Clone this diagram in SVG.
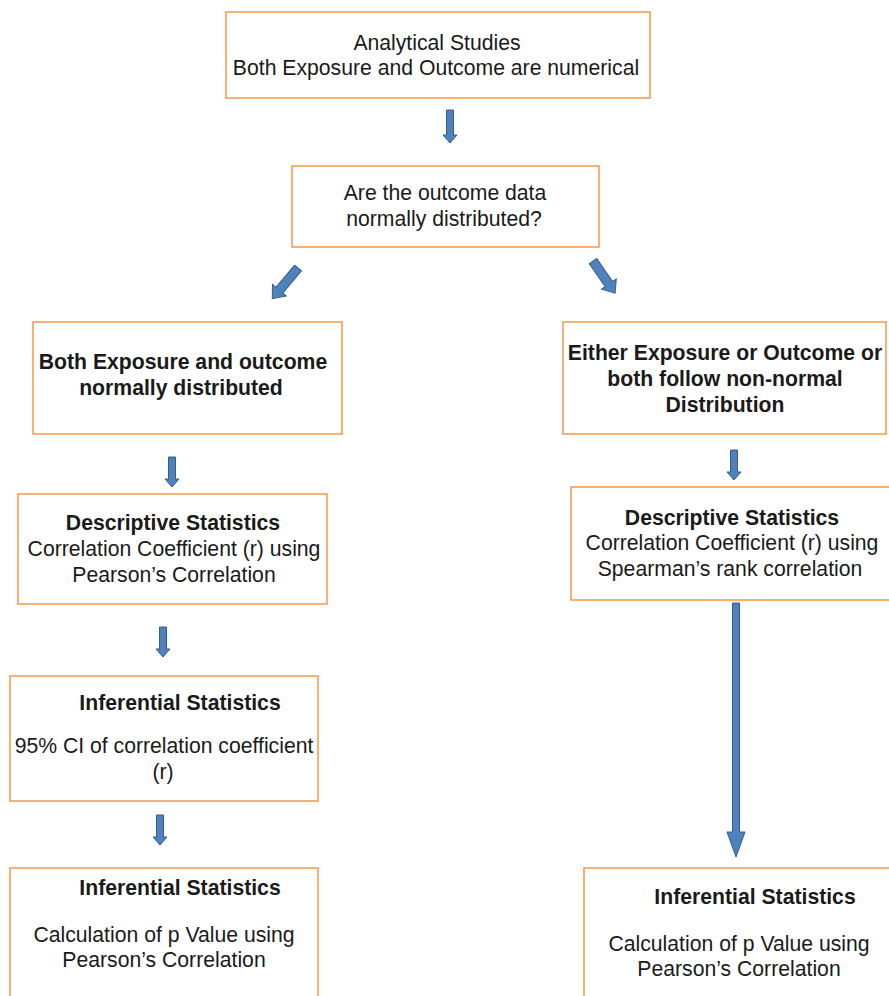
<svg xmlns="http://www.w3.org/2000/svg" width="889" height="996" viewBox="0 0 889 996">
  <style>
    .box { fill: #ffffff; stroke: #f79646; stroke-width: 1.5; }
    .t { font-family: "Liberation Sans", Arial, sans-serif; font-size: 21.2px; fill: #1a1a1a; text-anchor: middle; }
    .b { font-weight: bold; }
    .arr { fill: #4f81bd; stroke: #385d8a; stroke-width: 1; stroke-linejoin: miter; }
  </style>
  <rect width="889" height="996" fill="#ffffff"/>

  <!-- connectors: block arrows -->
  <g id="connectors">
    <!-- top to question -->
    <path class="arr" d="M446.5,110 H453.5 V135 H457 L450,143 L443,135 H446.5 Z"/>
    <!-- question to normal branch -->
    <path class="arr" transform="translate(298,268) rotate(40)" d="M-4.5,0 H4.5 V29 H9 L0,40 L-9,29 H-4.5 Z"/>
    <!-- question to non-normal branch -->
    <path class="arr" transform="translate(593,261) rotate(-34.5)" d="M-4.5,0 H4.5 V28 H9 L0,39 L-9,28 H-4.5 Z"/>
    <!-- left column -->
    <path class="arr" d="M168.5,457 H175.5 V479 H179 L172,487 L165,479 H168.5 Z"/>
    <path class="arr" d="M159.5,627 H166.5 V649 H170 L163,657 L156,649 H159.5 Z"/>
    <path class="arr" d="M156.5,815 H163.5 V837 H167 L160,845 L153,837 H156.5 Z"/>
    <!-- right column -->
    <path class="arr" d="M730.5,450 H737.5 V472 H741 L734,480 L727,472 H730.5 Z"/>
    <path class="arr" d="M732.5,603 H739.5 V832 H745 L736,857 L727,832 H732.5 Z"/>
  </g>

  <g id="node-analytical">
    <rect class="box" x="226" y="12" width="424" height="86"/>
    <text class="t" x="437" y="50">Analytical Studies</text>
    <text class="t" x="436" y="75">Both Exposure and Outcome are numerical</text>
  </g>

  <g id="node-normality">
    <rect class="box" x="292" y="166" width="307" height="81"/>
    <text class="t" x="445" y="200">Are the outcome data</text>
    <text class="t" x="444" y="226">normally distributed?</text>
  </g>

  <g id="node-normal">
    <rect class="box" x="33" y="322" width="309" height="112"/>
    <text class="t b" x="183" y="369">Both Exposure and outcome</text>
    <text class="t b" x="181" y="395">normally distributed</text>
  </g>

  <g id="node-nonnormal">
    <rect class="box" x="563" y="322" width="323" height="112"/>
    <text class="t b" x="725" y="360">Either Exposure or Outcome or</text>
    <text class="t b" x="725" y="386">both follow non-normal</text>
    <text class="t b" x="725" y="412">Distribution</text>
  </g>

  <g id="node-desc-pearson">
    <rect class="box" x="18" y="494" width="309" height="110"/>
    <text class="t b" x="173" y="530">Descriptive Statistics</text>
    <text class="t" x="174" y="556">Correlation Coefficient (r) using</text>
    <text class="t" x="174" y="582">Pearson’s Correlation</text>
  </g>

  <g id="node-desc-spearman">
    <rect class="box" x="571" y="487" width="330" height="113"/>
    <text class="t b" x="732" y="525">Descriptive Statistics</text>
    <text class="t" x="732" y="550">Correlation Coefficient (r) using</text>
    <text class="t" x="730" y="576">Spearman’s rank correlation</text>
  </g>

  <g id="node-ci">
    <rect class="box" x="10" y="676" width="308" height="125"/>
    <text class="t b" x="180" y="710">Inferential Statistics</text>
    <text class="t" x="164" y="753">95% CI of correlation coefficient</text>
    <text class="t" x="163" y="779">(r)</text>
  </g>

  <g id="node-pvalue-left">
    <rect class="box" x="10" y="868" width="308" height="140"/>
    <text class="t b" x="180" y="895">Inferential Statistics</text>
    <text class="t" x="164" y="942">Calculation of p Value using</text>
    <text class="t" x="164" y="967">Pearson’s Correlation</text>
  </g>

  <g id="node-pvalue-right">
    <rect class="box" x="584" y="868" width="320" height="140"/>
    <text class="t b" x="755" y="904">Inferential Statistics</text>
    <text class="t" x="739" y="951">Calculation of p Value using</text>
    <text class="t" x="739" y="976">Pearson’s Correlation</text>
  </g>
</svg>
